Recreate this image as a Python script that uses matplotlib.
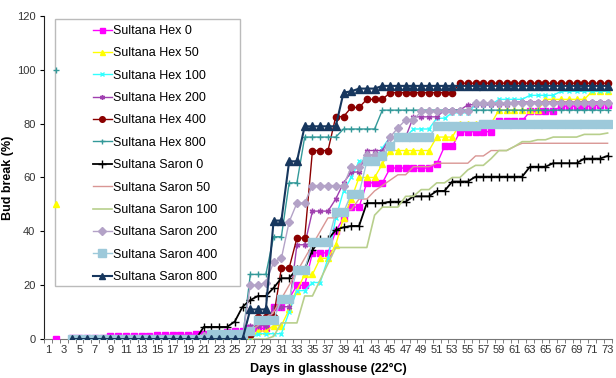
"""
Bud break of Sultana buds after Hex / Saron treatments, days in glasshouse at 22C.
"""

import matplotlib
matplotlib.use('Agg')
import matplotlib.pyplot as plt
from matplotlib.patches import Rectangle
import numpy as np

plt.rcParams['font.family'] = ['Liberation Sans', 'DejaVu Sans']

# category axis (days in glasshouse)
day_labels = np.arange(1, 74)
days = np.arange(4, 74)          # days 4..73 carry the series below

# single isolated readings on day 2
day2_day = [2]
hex0_d2 = [0]
hex50_d2 = [50]
hex800_d2 = [100]

hex0 = [0.5, 0.5, 0.5, 0.5, 0.5, 1, 1, 1, 1, 1,
        1, 1.5, 1.5, 1.5, 1.5, 1.5, 2, 2, 2, 2,
        2.5, 3, 3, 4, 4, 4, 12, 12, 15, 20,
        20, 32, 32, 32, 40, 45, 49, 49, 58, 58,
        58, 63.5, 63.5, 63.5, 63.5, 63.5, 63.5, 65, 71.5, 71.5,
        77, 77, 77, 77, 77, 81, 81, 81, 81, 84.5,
        84.5, 84.5, 84.5, 86.5, 86.5, 86.5, 86.5, 86.5, 87, 87]

hex50 = [0, 0, 0, 0, 0, 0, 0, 0, 0, 0,
         0, 0, 0, 0, 0, 0, 0, 0, 0, 0,
         0, 0, 0, 0, 3, 3, 5, 5, 11, 18,
         24, 24, 30, 30, 35, 45, 52, 60, 60, 60,
         65, 70, 70, 70, 70, 70, 70, 75, 75, 75,
         80, 80, 80, 80, 80, 85, 85, 85, 85, 85,
         85, 89, 89, 89, 89, 89, 89, 92, 92, 92]

hex100 = [0, 0, 0, 0, 0, 0, 0, 0, 0, 0,
          0, 0, 0, 0, 0, 0, 0, 0, 0, 0,
          0, 0, 0, 0, 2, 2, 2, 2, 10, 18,
          18, 21, 21, 30, 45, 55, 60, 66, 66, 66,
          71, 75, 75, 75, 78, 78, 78, 82, 82, 84,
          84, 84, 87, 87, 87, 89, 89, 89, 89, 90.5,
          90.5, 90.5, 90.5, 92, 92, 92, 92, 92, 92, 92]

hex200 = [0, 0, 0, 0, 0, 0, 0, 0, 0, 0,
          0, 0, 0, 0, 0, 0, 0, 0, 0, 0,
          0, 0, 0, 5, 5, 5, 12, 12, 12, 35,
          35, 47.5, 47.5, 47.5, 52, 58, 62, 62, 70, 70,
          70, 75, 75, 75, 82.5, 82.5, 82.5, 82.5, 85, 85,
          85, 87, 87, 87, 87, 87, 87, 88, 88, 88,
          88, 88, 88, 88, 88, 88, 88, 88, 88, 88]

hex400 = [0, 0, 0, 0, 0, 0, 0, 0, 0, 0,
          0, 0, 0, 0, 0, 0, 0, 0, 1.5, 1.5,
          1.5, 1.5, 1.5, 1.5, 8.3, 8.3, 8.3, 26.4, 26.4, 37.5,
          37.5, 70, 70, 70, 82.6, 82.6, 86, 86, 89, 89,
          89, 91.5, 91.5, 91.5, 91.5, 91.5, 91.5, 91.5, 91.5, 91.5,
          95, 95, 95, 95, 95, 95, 95, 95, 95, 95,
          95, 95, 95, 95, 95, 95, 95, 95, 95, 95]

hex800 = [0, 0, 0, 0, 0, 0, 0, 0, 0, 0,
          0, 0, 0, 0, 0, 0, 0, 0, 0, 0,
          0, 0, 0, 24, 24, 24, 38, 38, 58, 58,
          75, 75, 75, 75, 75, 78, 78, 78, 78, 78,
          85, 85, 85, 85, 85, 85, 85, 85, 85, 85,
          85, 85, 85, 85, 85, 85, 85, 85, 85, 85,
          85, 85, 85, 85, 85, 85, 85, 85, 85, 85]

saron0 = [0, 0, 0, 0, 0, 0, 0, 0, 0, 0,
          0, 0, 0, 0, 0, 0, 0, 4.5, 4.5, 4.5,
          4.5, 6.5, 12, 14.5, 16, 16, 19, 22.6, 22.6, 26,
          26, 33, 37, 37, 40.5, 41.5, 42, 42, 50.5, 50.5,
          50.5, 51, 51, 51, 53, 53, 53, 55, 55, 58.5,
          58.5, 58.5, 60.3, 60.3, 60.3, 60.3, 60.3, 60.3, 60.3, 64,
          64, 64, 65.3, 65.3, 65.3, 65.3, 67, 67, 67, 68]

saron50 = [0, 0, 0, 0, 0, 0, 0, 0, 0, 0,
           0, 0, 0, 0, 0, 0, 0, 0, 0, 0,
           0, 0, 0, 3, 5, 8, 10, 15, 20, 25,
           30, 35, 40, 45, 45, 48, 48, 52, 52, 55,
           57, 59, 61, 61, 64, 64, 64, 65.3, 65.3, 65.3,
           65.3, 65.3, 68, 68, 70, 70, 70, 71.5, 72.7, 72.7,
           72.7, 72.7, 72.7, 72.7, 72.7, 72.7, 72.7, 72.7, 72.7, 72.7]

saron100 = [0, 0, 0, 0, 0, 0, 0, 0, 0, 0,
            0, 0, 0, 0, 0, 0, 0, 0, 0, 0,
            0, 0, 0, 0, 0, 0, 1, 6, 6, 6,
            16, 16, 22, 28, 34, 34, 34, 34, 34, 46,
            49, 49, 49, 53, 53, 55.5, 55.5, 58, 58, 60,
            60, 62.8, 64.5, 64.5, 67, 70, 70, 71.5, 73.3, 73.3,
            74, 74, 75, 75, 75, 75, 76, 76, 76, 76.5]

saron200 = [0, 0, 0, 0, 0, 0, 0, 0, 0, 0,
            0, 0, 0, 0, 0, 0, 0, 1, 1, 1,
            1, 1, 1, 20, 20, 21, 28.6, 30, 43.5, 50.5,
            50.5, 57, 57, 57, 57, 57, 64, 64, 68.4, 68.4,
            68.4, 75, 78.4, 81.4, 81.4, 84.5, 84.5, 84.5, 84.5, 84.5,
            84.5, 84.5, 87.6, 87.6, 87.6, 87.6, 87.6, 87.6, 87.6, 87.6,
            87.6, 87.6, 87.6, 87.6, 87.6, 87.6, 87.6, 87.6, 87.6, 87.6]

saron400 = [0, 0, 0, 0, 0, 0, 0, 0, 0, 0,
            0, 0, 0, 0, 0, 0, 0, 0, 2, 2,
            2, 2, 2, 3, 7, 7, 7, 15, 15, 25.6,
            25.6, 36, 36, 36, 47, 47, 54, 54, 66, 66,
            68, 71.5, 75, 75, 75, 75, 75, 79, 79, 79,
            79, 79, 79, 80, 80, 80, 80, 80, 80, 80,
            80, 80, 80, 80, 80, 80, 80, 80, 80, 80]

saron800 = [0, 0, 0, 0, 0, 0, 0, 0, 0, 0,
            0, 0, 0, 0, 0, 0, 0, 0, 0, 0,
            0, 0, 0, 11, 11, 11, 44, 44, 66, 66,
            79, 79, 79, 79, 79, 91.5, 92, 93, 93, 93,
            94, 94, 94, 94, 94, 94, 94, 94, 94, 94,
            94, 94, 94, 94, 94, 94, 94, 94, 94, 94,
            94, 94, 94, 94, 94, 94, 94, 94, 94, 94]

# (label, values, day-2 value, color, marker, markersize, linewidth)
series = [
    ('Sultana Hex 0', hex0, hex0_d2, '#FF00FF', 's', 4.0, 1.0),
    ('Sultana Hex 50', hex50, hex50_d2, '#FFFF00', '^', 4.0, 1.0),
    ('Sultana Hex 100', hex100, None, '#33FFFF', 'x', 3.0, 1.0),
    ('Sultana Hex 200', hex200, None, '#A040B0', (6, 2, 0), 4.0, 1.0),
    ('Sultana Hex 400', hex400, None, '#8B0000', 'o', 4.5, 1.0),
    ('Sultana Hex 800', hex800, hex800_d2, '#339999', '+', 4.0, 1.0),
    ('Sultana Saron 0', saron0, None, '#000000', '+', 6.0, 1.3),
    ('Sultana Saron 50', saron50, None, '#D99694', 'None', 0, 1.0),
    ('Sultana Saron 100', saron100, None, '#B8CF8C', 'None', 0, 1.2),
    ('Sultana Saron 200', saron200, None, '#B3A2C7', 'D', 4.5, 1.0),
    ('Sultana Saron 400', saron400, None, '#9DC9DA', 's', 6.0, 1.0),
    ('Sultana Saron 800', saron800, None, '#17375E', '^', 5.5, 1.5),
]

fig = plt.figure(figsize=(6.16, 3.78), dpi=100)
ax = fig.add_axes([0.0722, 0.103, 0.9205, 0.855])

handles = []
for name, vals, d2, col, mk, ms, lw in series:
    h, = ax.plot(days, vals, '-', color=col, marker=mk, markersize=ms,
                 linewidth=lw, markeredgewidth=1.0, label=name, zorder=3)
    handles.append(h)
    if d2 is not None:
        ax.plot(day2_day, d2, linestyle='None', color=col, marker=mk,
                markersize=ms, markeredgewidth=1.0, zorder=3)

ax.set_xlim(0.5, 73.5)
ax.set_ylim(0, 120)

# labels on odd days, tick marks between categories
ax.set_xticks(day_labels[::2])
ax.set_xticklabels([str(d) for d in day_labels[::2]], fontsize=8, color='#333333')
ax.set_xticks(np.arange(0.5, 74, 1), minor=True)
ax.tick_params(axis='x', which='major', length=0, pad=4)
ax.tick_params(axis='x', which='minor', length=3, direction='out', color='#666666')
ax.set_yticks(np.arange(0, 121, 20))
ax.tick_params(axis='y', labelsize=8, length=3, direction='out', labelcolor='#333333')

for sp in ['top', 'right']:
    ax.spines[sp].set_visible(False)
ax.spines['left'].set_color('#222222')
ax.spines['bottom'].set_color('#777777')

ax.set_ylabel('Bud break (%)', fontsize=9, fontweight='bold')
ax.yaxis.set_label_coords(-0.054, 0.5)
ax.set_xlabel('Days in glasshouse (22\u00b0C)', fontsize=9, fontweight='bold', labelpad=6)

# legend frame like the spreadsheet one: wide empty left margin
ax.add_patch(Rectangle((0.0185, 0.164), 0.326, 0.827, transform=ax.transAxes,
                       facecolor='none', edgecolor='#BBBBBB', linewidth=1.0, zorder=2))
leg = ax.legend(handles=handles, loc='upper left', bbox_to_anchor=(0.0855, 0.972),
                frameon=False, fontsize=9, labelspacing=0.83, handlelength=1.5,
                handletextpad=0.1, borderpad=0.0, borderaxespad=0.0, markerscale=0.9)
leg.set_zorder(5)

fig.savefig('out.png', dpi=100)
